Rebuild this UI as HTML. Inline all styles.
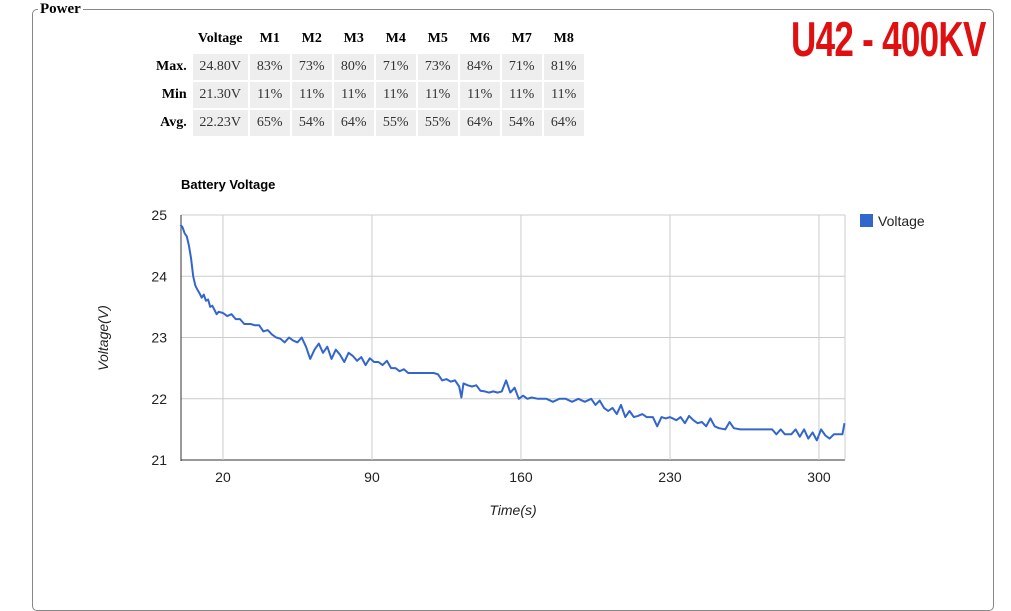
<!DOCTYPE html>
<html><head><meta charset="utf-8"><style>
body{margin:0;width:1011px;height:553px;background:#fff;overflow:hidden;position:relative;font-family:"Liberation Serif",serif}
.fs{position:absolute;left:32px;top:9px;width:960px;height:600px;border:1px solid #888;border-radius:5px}
.lg{position:absolute;left:38px;top:1px;background:#fff;font-weight:bold;font-size:15px;padding:0 2px}
table{position:absolute;left:154px;top:24px;border-collapse:separate;border-spacing:2px;font-size:14px}
td,th{height:26px;padding:0;text-align:center}
th{font-weight:bold}
td.c{background:#eee;color:#333;width:40px}
td.v{width:55px}
th.r{text-align:right;padding-right:4px}
.title{position:absolute;left:791px;top:12px;color:#e01010;font-family:"Liberation Sans",sans-serif;font-weight:bold;font-size:49px;white-space:nowrap;transform:scaleX(0.715);transform-origin:0 0;letter-spacing:-1px}
</style></head><body>
<div class="fs"></div>
<div class="lg">Power</div>
<div class="title">U42 - 400KV</div>
<table>
<tr><th></th><th>Voltage</th><th>M1</th><th>M2</th><th>M3</th><th>M4</th><th>M5</th><th>M6</th><th>M7</th><th>M8</th></tr>
<tr><th class="r">Max.</th><td class="c v">24.80V</td><td class="c">83%</td><td class="c">73%</td><td class="c">80%</td><td class="c">71%</td><td class="c">73%</td><td class="c">84%</td><td class="c">71%</td><td class="c">81%</td></tr>
<tr><th class="r">Min</th><td class="c v">21.30V</td><td class="c">11%</td><td class="c">11%</td><td class="c">11%</td><td class="c">11%</td><td class="c">11%</td><td class="c">11%</td><td class="c">11%</td><td class="c">11%</td></tr>
<tr><th class="r">Avg.</th><td class="c v">22.23V</td><td class="c">65%</td><td class="c">54%</td><td class="c">64%</td><td class="c">55%</td><td class="c">55%</td><td class="c">64%</td><td class="c">54%</td><td class="c">64%</td></tr>
</table>
<svg id="chart" width="1011" height="553" style="position:absolute;left:0;top:0" font-family="Liberation Sans, sans-serif"></svg>
<script>
const times=[0,1,2,3,4,5,6,7,8,9,10,11,12,13,14,15,16,17,18,20,22,24,26,28,30,33,35,37,39,41,43,45,47,49,51,53,55,57,59,61,63,65,67,69,71,73,75,77,79,81,83,85,87,89,91,93,95,97,99,101,103,105,107,110,113,116,119,121,123,125,127,129,131,132,133,135,137,139,141,143,145,147,149,151,153,155,157,159,161,163,165,168,172,175,178,181,184,187,190,193,195,197,199,201,203,205,207,209,211,213,215,217,219,222,224,226,228,230,233,235,237,239,241,243,245,247,249,251,253,256,258,260,263,266,270,274,278,280,282,284,287,289,291,293,295,297,299,301,303,305,307,309,311,312];
const voltage=[24.84,24.8,24.7,24.65,24.5,24.3,24.0,23.85,23.78,23.72,23.65,23.7,23.6,23.62,23.5,23.52,23.45,23.38,23.42,23.4,23.35,23.38,23.3,23.3,23.22,23.22,23.2,23.2,23.1,23.12,23.05,23.0,22.98,22.92,23.0,22.95,22.92,23.0,22.85,22.65,22.8,22.9,22.75,22.85,22.65,22.8,22.72,22.6,22.75,22.7,22.62,22.68,22.55,22.66,22.6,22.6,22.55,22.62,22.5,22.5,22.45,22.48,22.42,22.42,22.42,22.42,22.42,22.4,22.3,22.32,22.28,22.3,22.2,22.02,22.25,22.22,22.2,22.22,22.13,22.12,22.1,22.12,22.1,22.12,22.3,22.1,22.18,22.0,22.05,22.0,22.02,22.0,22.0,21.95,22.0,22.0,21.95,22.0,21.95,22.0,21.9,21.97,21.85,21.8,21.85,21.75,21.9,21.7,21.8,21.7,21.72,21.75,21.7,21.7,21.55,21.7,21.68,21.7,21.65,21.7,21.6,21.72,21.65,21.6,21.62,21.55,21.68,21.55,21.52,21.5,21.62,21.52,21.5,21.5,21.5,21.5,21.5,21.42,21.5,21.42,21.42,21.5,21.38,21.5,21.35,21.45,21.32,21.5,21.4,21.35,21.42,21.42,21.42,21.6];
const xTicks=[20,90,160,230,300];
const yTicks=[21,22,23,24,25];
const NS="http://www.w3.org/2000/svg";
const svg=document.getElementById('chart');
const X0=181,X1=845,Y0=215,Y1=460;
const xs=t=>180.4+t*(149/70);
const ys=v=>Y1-(v-21)*(Y1-Y0)/4;
function mk(tag,at,txt){const e=document.createElementNS(NS,tag);for(const k in at)e.setAttribute(k,at[k]);if(txt!==undefined)e.textContent=txt;svg.appendChild(e);return e;}
yTicks.forEach(v=>{
 const l=mk('line',{x1:X0,x2:X1,y1:ys(v),y2:ys(v),stroke:v===21?'#333':'#ccc','stroke-width':1});
 
 
 const t=mk('text',{x:167,y:ys(v)+5,'text-anchor':'end','font-size':14,fill:'#222'},String(v));
 
 
});
xTicks.forEach(v=>{
 const l=mk('line',{x1:xs(v),x2:xs(v),y1:Y0,y2:Y1,stroke:'#ccc','stroke-width':1});
 
 
 const t=mk('text',{x:xs(v),y:482,'text-anchor':'middle','font-size':14,fill:'#222'},String(v));
 
 
});
const rb=mk('line',{x1:X1,x2:X1,y1:Y0,y2:Y1,stroke:'#ccc'});


const ax=mk('line',{x1:X0,x2:X0,y1:Y0,y2:Y1+1,stroke:'#333'});


let d='';
times.forEach((t,i)=>{d+=(i?'L':'M')+xs(t).toFixed(1)+','+ys(voltage[i]).toFixed(1);});
const p=mk('path',{d:d,fill:'none',stroke:'#3366cc','stroke-width':2,'stroke-linejoin':'round'});


const ti=mk('text',{x:181,y:189,'font-size':13,'font-weight':'bold',fill:'#000'},'Battery Voltage');


const xt=mk('text',{x:513,y:515,'text-anchor':'middle','font-size':14,'font-style':'italic',fill:'#222'},'Time(s)');


const yt=mk('text',{x:0,y:0,'text-anchor':'middle','font-size':14,'font-style':'italic',fill:'#222',transform:'translate(108,338) rotate(-90)'},'Voltage(V)');


const ls=mk('rect',{x:860,y:214,width:13,height:13,fill:'#3366cc'});


const lt=mk('text',{x:878,y:226,'font-size':14,fill:'#222'},'Voltage');


</script>
</body></html>
